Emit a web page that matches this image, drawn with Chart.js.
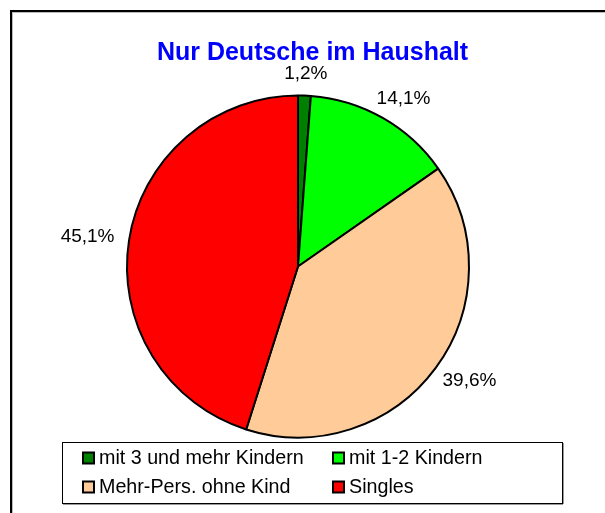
<!DOCTYPE html>
<html>
<head>
<meta charset="utf-8">
<script src="https://cdn.jsdelivr.net/npm/chart.js@4.4.1/dist/chart.umd.min.js"></script>
<style>
  html, body { margin: 0; padding: 0; background: #ffffff; }
  canvas { display: block; }
</style>
</head>
<body>
<canvas id="c" width="605" height="513"></canvas>
<script>
// ---- data ----
const title = "Nur Deutsche im Haushalt";
const categories = ["mit 3 und mehr Kindern", "mit 1-2 Kindern", "Mehr-Pers. ohne Kind", "Singles"];
const values = [1.2, 14.1, 39.6, 45.1];
const colors = ["#008000", "#00FF00", "#FFCC99", "#FF0000"];

const FONT = "'Liberation Sans', Arial, Helvetica, sans-serif";

function fmt(v) { return v.toFixed(1).replace('.', ',') + '%'; }

const framePlugin = {
  id: 'frame',
  beforeDraw(chart) {
    const ctx = chart.ctx;
    ctx.save();
    ctx.fillStyle = '#ffffff';
    ctx.fillRect(0, 0, chart.width, chart.height);
    // outer chart frame (extends beyond right/bottom edges)
    ctx.fillStyle = '#000000';
    ctx.fillRect(10, 10, chart.width - 10, 2);
    ctx.fillRect(10, 10, 2, chart.height - 10);
    ctx.fillStyle = '#bbbbbb';
    ctx.fillRect(12, 12, chart.width - 12, 1);
    ctx.fillRect(12, 12, 1, chart.height - 12);
    // title
    ctx.fillStyle = '#0000FF';
    ctx.font = 'bold 25px ' + FONT;
    ctx.textAlign = 'center';
    ctx.textBaseline = 'alphabetic';
    ctx.fillText(title, 312.5, 60);
    ctx.restore();
  },
  afterDraw(chart) {
    const ctx = chart.ctx;
    const meta = chart.getDatasetMeta(0);
    ctx.save();
    // slice labels outside
    ctx.font = '19px ' + FONT;
    ctx.fillStyle = '#000000';
    ctx.textAlign = 'center';
    ctx.textBaseline = 'middle';
    const gap = 15, halfH = 7;
    meta.data.forEach((arc, i) => {
      const p = arc.getProps(['x', 'y', 'startAngle', 'endAngle', 'outerRadius'], true);
      const mid = (p.startAngle + p.endAngle) / 2;
      const cx = Math.cos(mid), sy = Math.sin(mid);
      const txt = fmt(values[i]);
      const halfW = ctx.measureText(txt).width / 2;
      const ax = p.x + cx * (p.outerRadius + gap);
      const ay = p.y + sy * (p.outerRadius + gap);
      ctx.fillText(txt, ax + cx * halfW, ay + sy * halfH);
    });

    // legend box
    const L = 62, T = 442, R = 562, B = 503;
    ctx.fillStyle = '#999999';
    ctx.fillRect(L + 1, B + 1, R - L, 1);
    ctx.fillRect(R + 1, T + 1, 1, B - T);
    ctx.strokeStyle = '#000000';
    ctx.lineWidth = 1;
    ctx.strokeRect(L + 0.5, T + 0.5, R - L, B - T);

    const colX = [82, 332];
    const rowY = [458, 487];
    ctx.textAlign = 'left';
    ctx.textBaseline = 'middle';
    ctx.font = '19.7px ' + FONT;
    categories.forEach((cat, i) => {
      const x = colX[i % 2], y = rowY[Math.floor(i / 2)];
      ctx.fillStyle = '#000000';
      ctx.fillRect(x, y - 6.5, 13, 13);
      ctx.fillStyle = colors[i];
      ctx.fillRect(x + 2, y - 4.5, 9, 9);
      ctx.fillStyle = '#000000';
      ctx.fillText(cat, x + 17, y + 1);
    });
    ctx.restore();
  }
};

new Chart(document.getElementById('c'), {
  type: 'pie',
  data: {
    labels: categories,
    datasets: [{
      data: values,
      backgroundColor: colors,
      borderColor: '#000000',
      borderWidth: 2,
      borderAlign: 'center'
    }]
  },
  options: {
    responsive: false,
    animation: false,
    layout: { padding: { left: 126, right: 135, top: 94.5, bottom: 74.5 } },
    plugins: {
      legend: { display: false },
      title: { display: false },
      tooltip: { enabled: false }
    }
  },
  plugins: [framePlugin]
});
</script>
</body>
</html>
